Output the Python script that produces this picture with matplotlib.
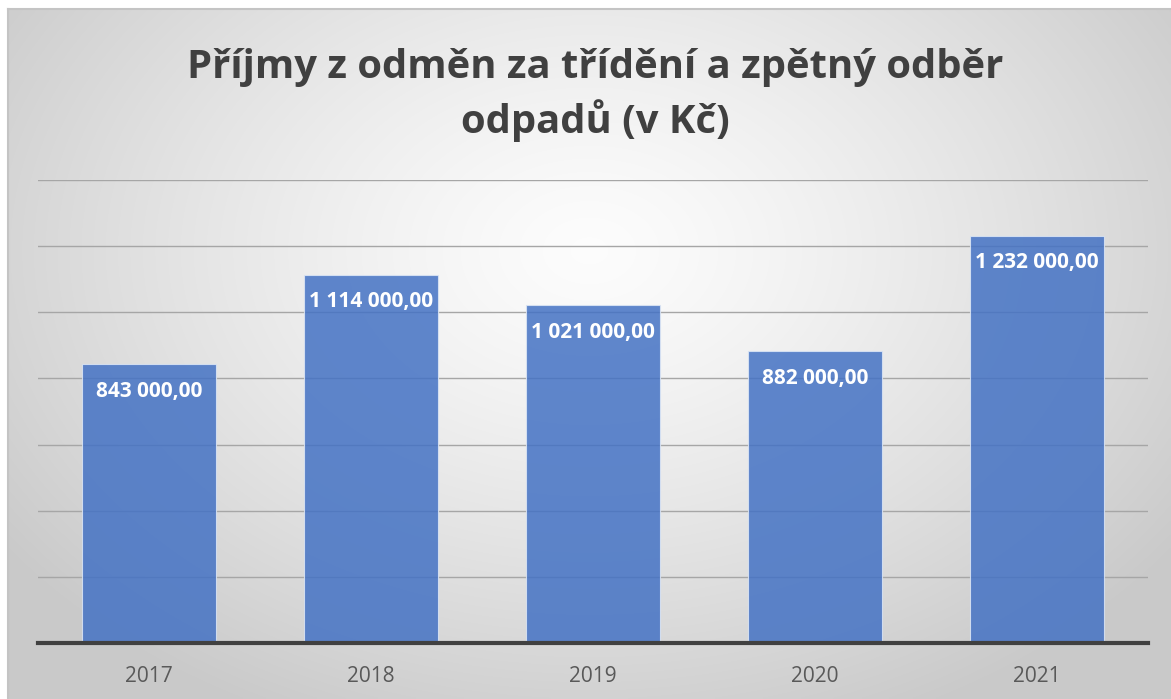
import numpy as np
import matplotlib
matplotlib.use("Agg")
import matplotlib.pyplot as plt
from matplotlib.ticker import MultipleLocator

years = ["2017", "2018", "2019", "2020", "2021"]
values = [843000, 1114000, 1021000, 882000, 1232000]
labels = ["843 000,00", "1 114 000,00", "1 021 000,00", "882 000,00", "1 232 000,00"]
title = "Příjmy z odměn za třídění a zpětný odběr\nodpadů (v Kč)"

W, H = 1171, 699
fig = plt.figure(figsize=(W / 100, H / 100), dpi=100)
fig.patch.set_facecolor("white")

# background with radial gradient
bx0, by_top = 8, 9
bg = fig.add_axes([bx0 / W, 0, 1 - bx0 / W, 1 - by_top / H], zorder=0)
nx, ny = 400, 240
xx, yy = np.meshgrid(np.linspace(0, 1, nx), np.linspace(0, 1, ny))
cx, cy = 0.5, 0.35
d = np.sqrt(((xx - cx) / 0.62) ** 2 + ((yy - cy) / 0.75) ** 2)
d = np.clip(d, 0, 1)
shade = 0.99 - 0.20 * d ** 1.3
img = np.dstack([shade, shade, shade])
bg.imshow(img, extent=[0, 1, 0, 1], origin="upper", aspect="auto", interpolation="bilinear")
bg.set_xlim(0, 1); bg.set_ylim(0, 1)
bg.set_xticks([]); bg.set_yticks([])
for s in bg.spines.values():
    s.set_edgecolor("#C4C4C4")
    s.set_linewidth(1.5)
bg.spines["bottom"].set_visible(False)
bg.spines["right"].set_visible(False)

ax = fig.add_axes([38 / W, 1 - 643 / H, (1148 - 38) / W, (643 - 180) / H], zorder=1)
ax.patch.set_alpha(0)
x = np.arange(len(years))
bars = ax.bar(x, values, width=0.6, color="#4472C4", alpha=0.85,
              edgecolor="#DCE6F5", linewidth=0.8, zorder=3)
ax.set_xlim(-0.5, len(years) - 0.5)
ax.set_ylim(0, 1400000)
ax.yaxis.set_major_locator(MultipleLocator(200000))
ax.grid(axis="y", color="#A6A6A6", linewidth=1.0, zorder=1)
ax.set_axisbelow(True)
ax.tick_params(axis="y", left=False, labelleft=False)
ax.tick_params(axis="x", bottom=False, labelsize=15, labelcolor="#595959", pad=13)
ax.set_xticks(x)
ax.set_xticklabels(years, family="Open Sans")
for s in ["left", "right", "top"]:
    ax.spines[s].set_visible(False)
ax.spines["bottom"].set_color("#404040")
ax.spines["bottom"].set_linewidth(3)
ax.spines["bottom"].set_zorder(4)

for xi, v, lab in zip(x, values, labels):
    ax.annotate(lab, (xi, v), xytext=(0, -19.5), textcoords="offset points",
                ha="center", va="center", color="white", fontsize=15,
                fontweight="bold", family="Open Sans", zorder=5)

fig.text(595 / W, 1 - 95 / H, title, ha="center", va="center", fontsize=28.8,
         fontweight="bold", color="#404040", family="Open Sans", linespacing=1.38)

fig.savefig("out.png", dpi=100)
